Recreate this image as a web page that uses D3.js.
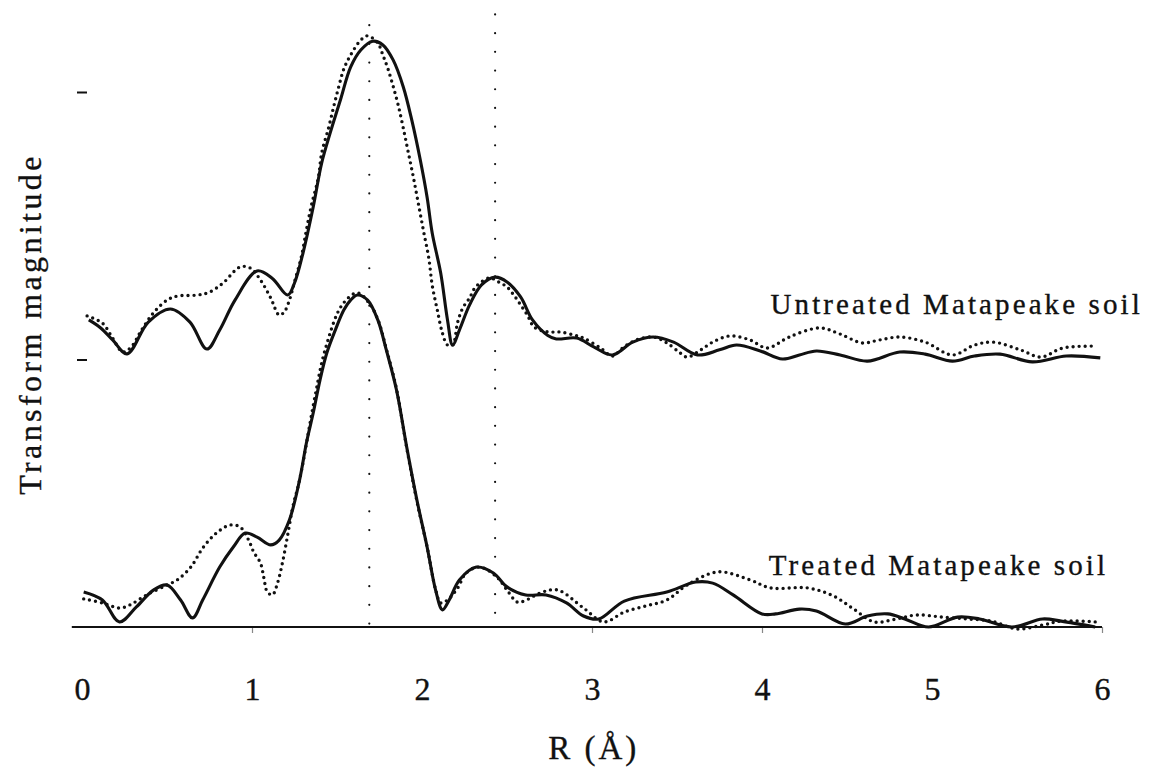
<!DOCTYPE html>
<html>
<head>
<meta charset="utf-8">
<script src="https://cdn.jsdelivr.net/npm/d3@7"></script>
<style>
  html, body { margin: 0; padding: 0; background: #fff; }
  svg { display: block; }
  text { font-family: "Liberation Serif", "Times New Roman", serif; fill: #111; stroke: #111; stroke-width: 0.35px; }
</style>
</head>
<body>
<svg id="chart" width="1152" height="772"></svg>
<script>
// ---------- data (R in Å, transform magnitude in arbitrary units) ----------
const xTickValues = [0, 1, 2, 3, 4, 5, 6];
const xTickMarks = [1, 3, 4, 6];
const yTickValues = [1, 2];
const seriesOffsets = { untreated: 1, treated: 0 };
const refLinesR = [1.69, 2.43];
const refLinesTop = [2.25, 2.29];
const refLinesBottom = [0.0, 0.037];
const labelTexts = ["Untreated Matapeake soil", "Treated Matapeake soil"];

const untreatedSolid = [[0.04,0.148],[0.11,0.118],[0.18,0.073],[0.265,0.021],[0.39,0.14],[0.52,0.189],[0.635,0.14],[0.735,0.039],[0.81,0.11],[0.9,0.222],[1.03,0.331],[1.12,0.303],[1.21,0.241],[1.25,0.286],[1.30,0.398],[1.36,0.57],[1.41,0.735],[1.46,0.847],[1.52,0.97],[1.58,1.093],[1.64,1.157],[1.71,1.19],[1.77,1.176],[1.83,1.12],[1.89,1.019],[1.94,0.895],[1.99,0.746],[2.03,0.607],[2.06,0.473],[2.11,0.323],[2.15,0.148],[2.18,0.054],[2.22,0.11],[2.28,0.204],[2.35,0.279],[2.43,0.308],[2.5,0.29],[2.58,0.234],[2.65,0.148],[2.74,0.09],[2.79,0.077],[2.91,0.08],[3.01,0.047],[3.12,0.017],[3.24,0.065],[3.36,0.084],[3.48,0.065],[3.62,0.017],[3.75,0.036],[3.85,0.054],[3.99,0.032],[4.12,0.002],[4.22,0.017],[4.32,0.032],[4.46,0.017],[4.62,-0.006],[4.81,0.028],[4.96,0.02],[5.12,-0.006],[5.25,0.013],[5.4,0.02],[5.59,-0.009],[5.79,0.013],[5.99,0.006]];

const untreatedDotted = [[0.03,0.163],[0.12,0.136],[0.18,0.08],[0.24,0.028],[0.29,0.047],[0.35,0.11],[0.42,0.174],[0.5,0.222],[0.56,0.237],[0.68,0.241],[0.75,0.252],[0.83,0.286],[0.93,0.346],[0.99,0.342],[1.05,0.297],[1.11,0.23],[1.16,0.166],[1.19,0.178],[1.22,0.222],[1.25,0.29],[1.29,0.383],[1.32,0.484],[1.35,0.578],[1.39,0.679],[1.41,0.772],[1.45,0.865],[1.48,0.944],[1.51,1.019],[1.54,1.086],[1.58,1.138],[1.64,1.194],[1.68,1.21],[1.74,1.183],[1.77,1.138],[1.8,1.086],[1.83,1.022],[1.86,0.951],[1.89,0.865],[1.92,0.772],[1.95,0.679],[1.98,0.578],[2.01,0.477],[2.04,0.379],[2.06,0.278],[2.09,0.185],[2.12,0.099],[2.15,0.054],[2.18,0.054],[2.21,0.14],[2.24,0.193],[2.28,0.23],[2.31,0.267],[2.35,0.29],[2.4,0.305],[2.45,0.29],[2.5,0.271],[2.54,0.241],[2.58,0.204],[2.62,0.166],[2.66,0.121],[2.74,0.103],[2.81,0.103],[2.89,0.092],[2.95,0.08],[3.05,0.043],[3.12,0.013],[3.18,0.043],[3.26,0.073],[3.36,0.084],[3.44,0.062],[3.52,0.024],[3.56,0.009],[3.64,0.036],[3.71,0.065],[3.81,0.088],[3.93,0.073],[4.03,0.043],[4.16,0.084],[4.34,0.118],[4.46,0.095],[4.59,0.062],[4.69,0.073],[4.81,0.084],[4.96,0.065],[5.12,0.017],[5.25,0.054],[5.36,0.065],[5.52,0.036],[5.64,0.009],[5.77,0.043],[5.97,0.05]];

const treatedSolid = [[0.01,0.131],[0.12,0.101],[0.22,0.019],[0.32,0.075],[0.42,0.138],[0.5,0.157],[0.58,0.101],[0.65,0.034],[0.71,0.101],[0.81,0.224],[0.89,0.299],[0.96,0.351],[1.03,0.336],[1.11,0.307],[1.16,0.325],[1.22,0.4],[1.28,0.55],[1.32,0.688],[1.36,0.8],[1.4,0.923],[1.44,1.024],[1.49,1.11],[1.54,1.185],[1.58,1.222],[1.62,1.241],[1.68,1.222],[1.74,1.148],[1.79,1.036],[1.85,0.886],[1.91,0.673],[1.97,0.475],[2.03,0.299],[2.08,0.138],[2.12,0.064],[2.16,0.101],[2.22,0.176],[2.32,0.224],[2.42,0.202],[2.5,0.15],[2.61,0.12],[2.73,0.12],[2.85,0.09],[2.95,0.041],[3.04,0.03],[3.19,0.097],[3.44,0.131],[3.61,0.168],[3.71,0.164],[3.83,0.12],[4.0,0.049],[4.08,0.049],[4.22,0.067],[4.32,0.06],[4.49,0.011],[4.62,0.041],[4.74,0.049],[4.84,0.03],[4.98,0.0],[5.15,0.037],[5.28,0.03],[5.47,0.0],[5.65,0.03],[5.76,0.022],[5.96,0.0]];

const treatedDotted = [[0.01,0.105],[0.12,0.09],[0.22,0.071],[0.28,0.082],[0.38,0.12],[0.5,0.157],[0.56,0.176],[0.64,0.224],[0.71,0.295],[0.79,0.351],[0.87,0.381],[0.93,0.374],[0.98,0.325],[1.01,0.28],[1.05,0.239],[1.07,0.183],[1.09,0.131],[1.12,0.12],[1.15,0.164],[1.18,0.243],[1.21,0.344],[1.24,0.449],[1.28,0.55],[1.37,0.86],[1.43,1.036],[1.53,1.204],[1.62,1.249],[1.69,1.21],[1.74,1.15],[1.79,1.04],[1.85,0.89],[1.91,0.67],[1.97,0.47],[2.03,0.30],[2.08,0.14],[2.11,0.09],[2.15,0.101],[2.21,0.146],[2.26,0.202],[2.34,0.224],[2.44,0.187],[2.5,0.138],[2.56,0.093],[2.6,0.097],[2.71,0.131],[2.8,0.138],[2.95,0.071],[3.07,0.019],[3.19,0.056],[3.32,0.079],[3.44,0.101],[3.56,0.157],[3.74,0.206],[3.93,0.176],[4.05,0.146],[4.27,0.146],[4.42,0.116],[4.54,0.067],[4.66,0.019],[4.79,0.03],[4.91,0.045],[5.06,0.037],[5.21,0.03],[5.35,0.022],[5.5,-0.007],[5.65,0.007],[5.76,0.022],[5.96,0.019]];

// ---------- layout ----------
const svg = d3.select("#chart");
const x = d3.scaleLinear().domain([0, 6]).range([82, 1102]);
const y = d3.scaleLinear().domain([0, 2]).range([627, 92]);

const line = d3.line()
  .x(d => x(d[0]))
  .y(d => y(d[1]))
  .curve(d3.curveCatmullRom.alpha(0.5));

function offsetData(data, off) { return data.map(d => [d[0], d[1] + off]); }

// reference dotted vertical lines
svg.append("g").selectAll("line").data(refLinesR).join("line")
  .attr("x1", d => x(d)).attr("x2", d => x(d))
  .attr("y1", (d, i) => y(refLinesTop[i]))
  .attr("y2", (d, i) => y(refLinesBottom[i]))
  .attr("stroke", "#111").attr("stroke-width", 2.2)
  .attr("stroke-linecap", "round")
  .attr("stroke-dasharray", "0 18.7");

// baseline (x axis line)
const xAxis = d3.axisBottom(x).tickValues(xTickMarks).tickSize(6).tickFormat("").tickSizeOuter(0);
const gx = svg.append("g").attr("transform", `translate(0,${y(0)})`).call(xAxis);
gx.select(".domain").remove();
gx.selectAll(".tick line").attr("stroke", "#888").attr("stroke-width", 1.2);
svg.append("line")
  .attr("x1", x(-0.06)).attr("x2", x(6))
  .attr("y1", y(0)).attr("y2", y(0))
  .attr("stroke", "#111").attr("stroke-width", 2.2);

// x tick labels
const xLab = d3.axisBottom(x).tickValues(xTickValues).tickSize(0).tickPadding(0).tickFormat(d3.format("d"));
const gxl = svg.append("g").attr("transform", `translate(0,${y(0) + 73})`).call(xLab);
gxl.select(".domain").remove();
gxl.selectAll(".tick text")
  .attr("font-size", 32).attr("fill", "#111").attr("dy", 0)
  .style("font-family", "Liberation Serif, serif");

// y ticks (no labels)
const yAxis = d3.axisLeft(y).tickValues(yTickValues).tickSize(10).tickFormat("");
const gy = svg.append("g").attr("transform", `translate(87,0)`).call(yAxis);
gy.select(".domain").remove();
gy.selectAll(".tick line").attr("stroke", "#111").attr("stroke-width", 2);

// curves
function drawSeries(data, off, dotted) {
  const p = svg.append("path")
    .datum(offsetData(data, off))
    .attr("d", line)
    .attr("fill", "none")
    .attr("stroke", "#111");
  if (dotted) {
    p.attr("stroke-width", 3.4).attr("stroke-linecap", "round").attr("stroke-dasharray", "0 6");
  } else {
    p.attr("stroke-width", 3.1).attr("stroke-linejoin", "round");
  }
}
drawSeries(untreatedDotted, seriesOffsets.untreated, true);
drawSeries(untreatedSolid, seriesOffsets.untreated, false);
drawSeries(treatedDotted, seriesOffsets.treated, true);
drawSeries(treatedSolid, seriesOffsets.treated, false);

// series labels
svg.append("text").attr("x", x(4.05)).attr("y", y(seriesOffsets.untreated + 0.17))
  .attr("font-size", 29).attr("letter-spacing", 3.1).text(labelTexts[0]);
svg.append("text").attr("x", x(4.04)).attr("y", y(seriesOffsets.treated + 0.195))
  .attr("font-size", 29).attr("letter-spacing", 3.1).text(labelTexts[1]);

// axis titles
svg.append("text").attr("x", x(3.01)).attr("y", 759)
  .attr("text-anchor", "middle").attr("font-size", 33).attr("letter-spacing", 3)
  .text("R (Å)");
svg.append("text")
  .attr("transform", `translate(41, ${324}) rotate(-90)`)
  .attr("text-anchor", "middle").attr("font-size", 32).attr("letter-spacing", 3.4)
  .text("Transform magnitude");
</script>
</body>
</html>
